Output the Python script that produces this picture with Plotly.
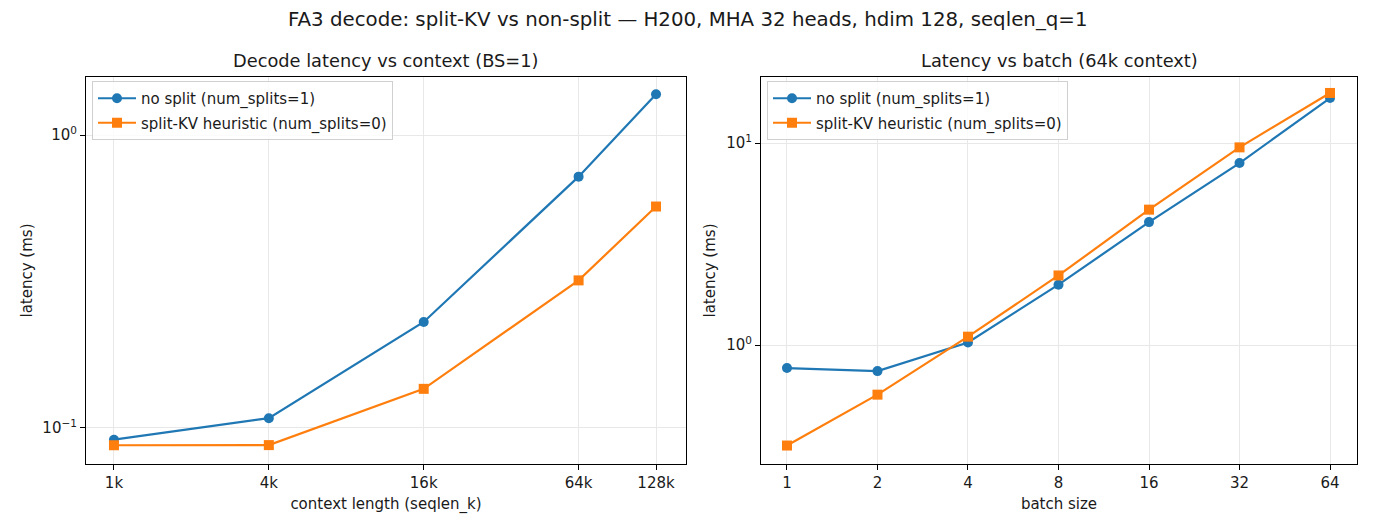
import plotly.graph_objects as go
import math

# ---- data ----
context_len = [1024, 4096, 16384, 65536, 131072]
context_ticks = ["1k", "4k", "16k", "64k", "128k"]
ctx_nosplit = [0.0912, 0.108, 0.230, 0.721, 1.377]
ctx_split = [0.0873, 0.0874, 0.136, 0.319, 0.570]

batch_size = [1, 2, 4, 8, 16, 32, 64]
batch_ticks = ["1", "2", "4", "8", "16", "32", "64"]
bs_nosplit = [0.769, 0.743, 1.03, 1.99, 4.06, 7.96, 16.7]
bs_split = [0.318, 0.568, 1.10, 2.21, 4.68, 9.52, 17.7]

names = ["no split (num_splits=1)", "split-KV heuristic (num_splits=0)"]
BLUE = "#1f77b4"
ORANGE = "#ff7f0e"
FONT = "DejaVu Sans"

W, H = 1375, 528
def px(x):
    return x / W
def py(y):
    return 1 - y / H

fig = go.Figure()

def add_pair(xs, a, b, xa, ya, leg, tag):
    fig.add_trace(go.Scatter(x=xs, y=a, name=names[0], mode="lines+markers",
                             line=dict(color=BLUE, width=2.2),
                             marker=dict(symbol="circle", size=10, color=BLUE),
                             xaxis=xa, yaxis=ya, legend=leg, legendgroup=tag + "a"))
    fig.add_trace(go.Scatter(x=xs, y=b, name=names[1], mode="lines+markers",
                             line=dict(color=ORANGE, width=2.2),
                             marker=dict(symbol="square", size=10, color=ORANGE),
                             xaxis=xa, yaxis=ya, legend=leg, legendgroup=tag + "b"))

add_pair(context_len, ctx_nosplit, ctx_split, "x", "y", "legend", "l")
add_pair(batch_size, bs_nosplit, bs_split, "x2", "y2", "legend2", "r")

L2 = math.log10(2)
axis_common = dict(showline=True, linecolor="black", linewidth=1.1, mirror=True,
                   ticks="outside", ticklen=5, tickcolor="black", tickwidth=1.1,
                   showgrid=True, gridcolor="#e8e8e8", gridwidth=1,
                   zeroline=False, tickfont=dict(family=FONT, size=15, color="#1a1a1a"))

ydom = [py(464), py(77)]
legend_common = dict(xanchor="left", yanchor="top", itemwidth=38,
                     bgcolor="rgba(255,255,255,0.8)", bordercolor="#d0d0d0", borderwidth=1,
                     font=dict(family=FONT, size=15, color="#1a1a1a"), tracegroupgap=2)
fig.update_layout(
    width=W, height=H,
    margin=dict(l=0, r=0, t=0, b=0),
    plot_bgcolor="white", paper_bgcolor="white",
    font=dict(family=FONT, size=15, color="#1a1a1a"),
    xaxis=dict(domain=[px(86), px(686)], type="log",
               range=[9.639 * L2, 17.387 * L2],
               tickvals=context_len, ticktext=context_ticks,
               title=dict(text="context length (seqlen_k)", font=dict(size=15), standoff=7),
               anchor="y", **axis_common),
    yaxis=dict(domain=ydom, type="log", range=[-1.123, 0.198],
               tickvals=[0.1, 1], ticktext=["10<sup>−1</sup>", "10<sup>0</sup>"],
               title=dict(text="latency (ms)", font=dict(size=15), standoff=6),
               anchor="x", **axis_common),
    xaxis2=dict(domain=[px(761), px(1357)], type="log",
                range=[-0.287 * L2, 6.298 * L2],
                tickvals=batch_size, ticktext=batch_ticks,
                title=dict(text="batch size", font=dict(size=15), standoff=7),
                anchor="y2", **axis_common),
    yaxis2=dict(domain=ydom, type="log", range=[-0.589, 1.327],
                tickvals=[1, 10], ticktext=["10<sup>0</sup>", "10<sup>1</sup>"],
                title=dict(text="latency (ms)", font=dict(size=15), standoff=6),
                anchor="x2", **axis_common),
    legend=dict(x=px(92), y=py(81), **legend_common),
    legend2=dict(x=px(767), y=py(81), **legend_common),
    annotations=[
        dict(text="FA3 decode: split-KV vs non-split — H200, MHA 32 heads, hdim 128, seqlen_q=1",
             x=0.5, y=py(20), xref="paper", yref="paper", showarrow=False,
             xanchor="center", yanchor="middle", font=dict(family=FONT, size=19.8, color="#1a1a1a")),
        dict(text="Decode latency vs context (BS=1)",
             x=(px(86) + px(686)) / 2, y=py(61), xref="paper", yref="paper", showarrow=False,
             xanchor="center", yanchor="middle", font=dict(family=FONT, size=17.8, color="#1a1a1a")),
        dict(text="Latency vs batch (64k context)",
             x=(px(761) + px(1357)) / 2, y=py(61), xref="paper", yref="paper", showarrow=False,
             xanchor="center", yanchor="middle", font=dict(family=FONT, size=17.8, color="#1a1a1a")),
    ],
)

fig.write_html("out.html", config={"displayModeBar": False},
               post_script="document.body.style.margin='0px';")
